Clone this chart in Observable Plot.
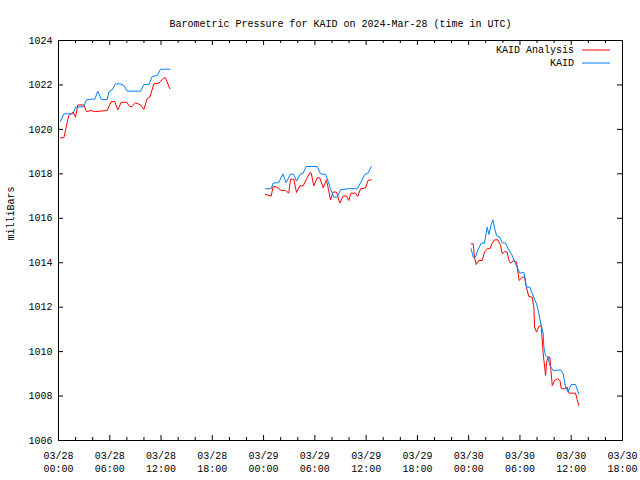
<!DOCTYPE html>
<html>
<head>
<meta charset="utf-8">
<script src="https://cdn.jsdelivr.net/npm/d3@7"></script>
<script src="https://cdn.jsdelivr.net/npm/@observablehq/plot@0.6"></script>
<style>
  html, body { margin: 0; padding: 0; background: #fff; }
</style>
</head>
<body>
<div id="chart"></div>
<script>
// ---- Data (hours since 2024-03-28 00:00 UTC; pressure in mb). null = data gap ----
const analysisHours = [
  0.23, 0.62, 1.21, 1.72, 1.99, 2.26, 2.96, 3.28, 3.82, 4.21, 5.70, 6.16, 6.59, 6.94, 7.33, 7.96,
  8.35, 8.62, 9.01, 9.60, 9.99, 10.38, 10.69, 11.16, 11.75, 12.33, 12.52, 13.03,
  null,
  24.22, 24.89, 25.12, 25.59, 26.06, 26.56, 26.95, 27.15, 27.54, 27.85, 28.24, 28.63, 29.10, 29.41,
  29.57, 29.88, 30.27, 30.58, 30.97, 31.36, 31.52, 31.83, 32.14, 32.53, 32.92, 33.31, 33.70, 33.97,
  34.24, 34.75, 35.02, 35.35, 35.94, 36.21, 36.60,
  null,
  48.29, 48.53, 48.68, 48.88, 49.18, 49.58, 49.85, 50.17, 50.48, 50.75, 51.02, 51.41, 51.73, 51.92,
  52.20, 52.50, 52.70, 52.90, 53.28, 53.60, 53.76, 53.91, 54.26, 54.53, 54.77, 55.04, 55.43, 55.63,
  55.71, 55.94, 56.22, 56.49, 56.72, 57.00, 57.12, 57.28, 57.51, 57.59, 57.78, 58.05, 58.37, 58.68,
  58.84, 59.22, 59.53, 59.73, 60.12, 60.50, 60.70, 60.89
];
const analysisMb = [
  1019.62, 1019.62, 1020.63, 1020.78, 1020.55, 1021.10, 1021.10, 1020.80, 1020.85, 1020.80, 1020.85,
  1021.25, 1021.25, 1020.88, 1021.22, 1021.22, 1021.03, 1021.03, 1021.20, 1021.10, 1020.90, 1021.38,
  1021.45, 1022.05, 1022.08, 1022.32, 1022.32, 1021.83,
  null,
  1017.07, 1017.00, 1017.43, 1017.40, 1017.25, 1017.25, 1017.13, 1017.76, 1017.76, 1017.16, 1017.46,
  1017.46, 1017.82, 1018.06, 1018.03, 1017.46, 1017.82, 1017.82, 1017.37, 1017.73, 1017.43, 1016.83,
  1017.18, 1017.18, 1016.68, 1017.00, 1017.00, 1016.80, 1017.13, 1017.13, 1016.98, 1017.33, 1017.37,
  1017.70, 1017.73,
  null,
  1014.85, 1014.85, 1014.25, 1013.92, 1014.10, 1014.10, 1014.48, 1014.63, 1014.63, 1014.88, 1015.03,
  1015.03, 1014.78, 1014.40, 1014.50, 1014.48, 1014.10, 1013.98, 1014.10, 1014.03, 1013.58, 1013.20,
  1013.35, 1013.35, 1012.87, 1012.48, 1012.45, 1012.00, 1011.10, 1010.88, 1011.13, 1011.18, 1009.90,
  1008.92, 1009.52, 1009.75, 1009.75, 1009.30, 1008.47, 1008.70, 1008.78, 1008.70, 1008.33, 1008.33,
  1008.40, 1008.13, 1008.13, 1008.13, 1007.83, 1007.58
];
const observedHours = [
  0.23, 0.62, 1.72, 1.99, 2.96, 3.28, 3.74, 4.25, 4.60, 4.99, 5.70, 5.89, 6.28, 6.67, 7.18, 7.65,
  8.04, 9.60, 9.99, 10.57, 10.96, 11.55, 11.94, 13.03,
  null,
  24.22, 24.89, 25.12, 25.79, 26.25, 26.64, 27.15, 27.54, 27.85, 28.32, 28.63, 28.98, 30.27, 30.66,
  31.25, 31.52, 31.83, 32.22, 32.61, 33.00, 33.79, 34.96, 35.35, 35.82, 36.21, 36.60,
  null,
  48.29, 48.53, 48.80, 49.07, 49.47, 49.85, 50.17, 50.36, 50.64, 50.83, 51.02, 51.26, 51.65, 51.92,
  52.31, 52.70, 53.09, 53.48, 53.99, 54.46, 54.77, 55.16, 55.63, 55.94, 56.22, 56.49, 56.72, 56.80,
  57.00, 57.28, 57.51, 57.90, 58.76, 59.06, 59.33, 59.61, 60.00, 60.50, 60.89
];
const observedMb = [
  1020.36, 1020.70, 1020.70, 1021.00, 1021.03, 1021.33, 1021.36, 1021.36, 1021.72, 1021.36, 1021.33,
  1021.68, 1021.78, 1022.05, 1022.05, 1021.98, 1021.72, 1021.72, 1022.02, 1022.02, 1022.38, 1022.42,
  1022.71, 1022.71,
  null,
  1017.33, 1017.33, 1017.58, 1017.61, 1018.00, 1017.60, 1018.00, 1017.97, 1017.67, 1018.00, 1018.03,
  1018.33, 1018.33, 1018.00, 1017.97, 1017.70, 1017.33, 1016.95, 1016.95, 1017.28, 1017.33, 1017.33,
  1017.60, 1017.97, 1018.03, 1018.33,
  null,
  1014.63, 1014.25, 1014.25, 1014.58, 1014.88, 1014.88, 1015.60, 1015.27, 1015.72, 1015.93, 1015.57,
  1015.22, 1015.15, 1014.90, 1014.88, 1014.58, 1014.33, 1013.95, 1013.53, 1013.57, 1012.90, 1012.90,
  1012.42, 1012.15, 1011.70, 1011.18, 1010.80, 1010.20, 1009.82, 1009.75, 1009.37, 1009.15, 1009.18,
  1009.00, 1008.40, 1008.18, 1008.52, 1008.52, 1008.10
];

const xMajorTicks = [0, 6, 12, 18, 24, 30, 36, 42, 48, 54, 60, 66];
const xMinorTicks = [2, 4, 8, 10, 14, 16, 20, 22, 26, 28, 32, 34, 38, 40, 44, 46, 50, 52, 56, 58, 62, 64];
const xTickLabels = [
  "03/28\n00:00", "03/28\n06:00", "03/28\n12:00", "03/28\n18:00",
  "03/29\n00:00", "03/29\n06:00", "03/29\n12:00", "03/29\n18:00",
  "03/30\n00:00", "03/30\n06:00", "03/30\n12:00", "03/30\n18:00"
];
const yTicks = [1006, 1008, 1010, 1012, 1014, 1016, 1018, 1020, 1022, 1024];
const seriesNames = ["KAID Analysis", "KAID"];
const seriesColors = ["#ff0000", "#0080ff"];
const titleText = "Barometric Pressure for KAID on 2024-Mar-28 (time in UTC)";
const yLabel = "milliBars";

// ---- Build tables ----
const analysis = analysisHours.map((h, i) => ({h, p: analysisMb[i]}));
const observed = observedHours.map((h, i) => ({h, p: observedMb[i]}));
const labelOf = new Map(xMajorTicks.map((t, i) => [t, xTickLabels[i]]));

const W = 640, H = 480, ML = 58, MR = 18, MT = 40, MB = 40;
const innerH = H - MT - MB;
const innerW = W - ML - MR;
const FONT = "'Liberation Mono', 'DejaVu Sans Mono', monospace";

const plot = Plot.plot({
  width: W,
  height: H,
  marginLeft: ML,
  marginRight: MR,
  marginTop: MT,
  marginBottom: MB,
  style: {fontFamily: FONT, fontSize: "10px", background: "#fff", color: "#000"},
  x: {domain: [0, 66], axis: null},
  y: {domain: [1006, 1024], axis: null},
  marks: [
    // tick marks pointing inward (bottom/top, left/right)
    Plot.ruleX(xMajorTicks, {x: d => d, insetTop: innerH - 5, stroke: "#000"}),
    Plot.ruleX(xMajorTicks, {x: d => d, insetBottom: innerH - 5, stroke: "#000"}),
    Plot.ruleX(xMinorTicks, {x: d => d, insetTop: innerH - 3, stroke: "#000"}),
    Plot.ruleX(xMinorTicks, {x: d => d, insetBottom: innerH - 3, stroke: "#000"}),
    Plot.ruleY(yTicks, {y: d => d, insetRight: innerW - 5, stroke: "#000"}),
    Plot.ruleY(yTicks, {y: d => d, insetLeft: innerW - 5, stroke: "#000"}),
    // tick labels
    Plot.axisX(xMajorTicks, {anchor: "bottom", label: null, tickSize: 0, tickPadding: 9, tickFormat: d => labelOf.get(d), lineHeight: 1.3, fontSize: 10}),
    Plot.axisY(yTicks, {anchor: "left", label: null, tickSize: 0, tickPadding: 6, tickFormat: d => String(d), fontSize: 10}),
    // data
    Plot.line(analysis, {x: "h", y: "p", stroke: seriesColors[0], strokeWidth: 1, curve: "linear"}),
    Plot.line(observed, {x: "h", y: "p", stroke: seriesColors[1], strokeWidth: 1, curve: "linear"}),
    Plot.frame({stroke: "#000", strokeWidth: 1}),
    // title and y label
    Plot.text([titleText], {frameAnchor: "top", dy: -21, fontSize: 10, fill: "#000"}),
    Plot.text([yLabel], {frameAnchor: "left", dx: -48, rotate: -90, fontSize: 10, fill: "#000"})
  ]
});

// legend: built from series names/colors, positioned in the top-right corner of the frame
const svg = d3.select(plot);
const legend = svg.append("g").attr("font-family", FONT).attr("font-size", 10);
seriesNames.forEach((name, i) => {
  const y = MT + 10 + i * 13;
  legend.append("text").attr("x", W - MR - 48).attr("y", y).attr("dy", "0.32em").attr("text-anchor", "end").attr("fill", "#000").text(name);
  legend.append("line").attr("x1", W - MR - 40).attr("x2", W - MR - 12).attr("y1", y).attr("y2", y).attr("stroke", seriesColors[i]).attr("stroke-width", 1);
});

document.getElementById("chart").appendChild(plot);
</script>
</body>
</html>
